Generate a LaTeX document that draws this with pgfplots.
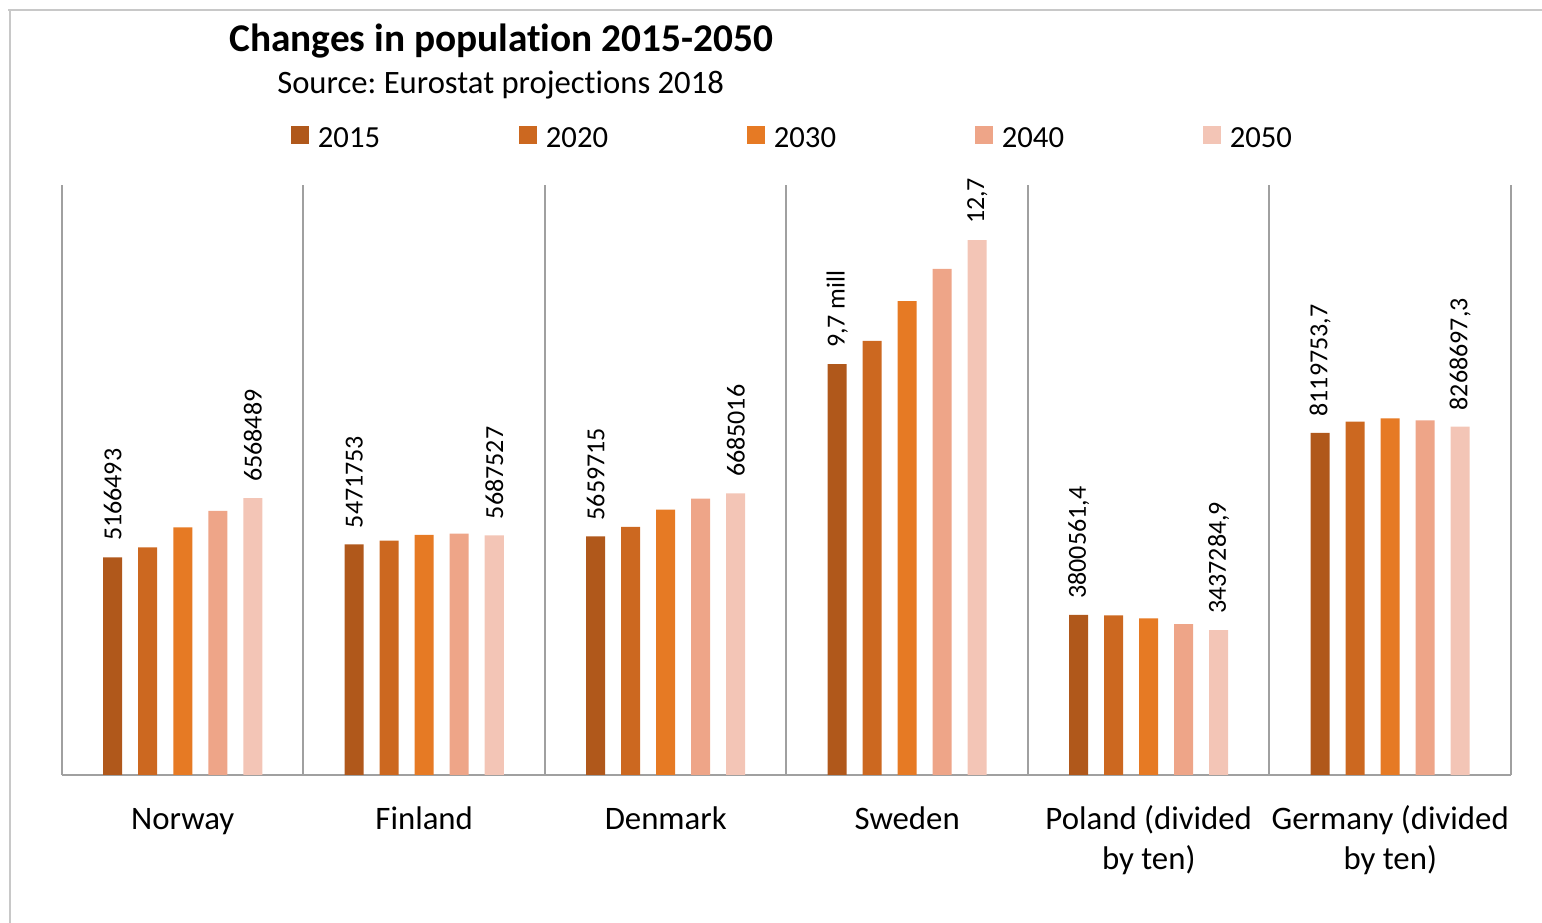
\documentclass[border=0pt]{standalone}
\usepackage{fontspec}
\setmainfont{Carlito}[Ligatures={NoCommon}]
\usepackage{pgfplots}
\usepackage{pgfplotstable}
\pgfplotsset{compat=1.18}
\frenchspacing

\definecolor{cA}{RGB}{176,88,27}
\definecolor{cB}{RGB}{204,104,32}
\definecolor{cC}{RGB}{230,122,36}
\definecolor{cD}{RGB}{238,165,136}
\definecolor{cE}{RGB}{243,197,182}
\definecolor{gridc}{RGB}{160,160,160}
\definecolor{framec}{RGB}{200,200,200}

\pgfplotstableread{
x y label
0 5166493 5166493
1 5471753 5471753
2 5659715 5659715
3 9750000 {9,7 mill}
4 3800561.4 {3800561,4}
5 8119753.7 {8119753,7}
}\tabA
\pgfplotstableread{
x y
0 5403000
1 5562000
2 5888000
3 10300000
4 3790000
5 8383000
}\tabB
\pgfplotstableread{
x y
0 5878000
1 5698000
2 6299000
3 11243000
4 3715000
5 8462000
}\tabC
\pgfplotstableread{
x y
0 6268000
1 5729000
2 6560000
3 12010000
4 3582000
5 8415000
}\tabD
\pgfplotstableread{
x y label
0 6568489 6568489
1 5687527 5687527
2 6685016 6685016
3 12690000 {12,7}
4 3437284.9 {3437284,9}
5 8268697.3 {8268697,3}
}\tabE

\begin{document}
\begin{tikzpicture}
\path[use as bounding box] (0,0) rectangle (1156.5pt,692.25pt);
\draw[framec, line width=1.5pt] (6pt,684.75pt) -- (1156.5pt,684.75pt);
\draw[framec, line width=1.5pt] (7.5pt,684.75pt) -- (7.5pt,0pt);
\node[anchor=base west, inner sep=0pt, font=\fontsize{29.5}{34}\selectfont\bfseries] at (171.75pt,653.25pt) {Changes in population 2015-2050};
\node[anchor=base west, inner sep=0pt, font=\fontsize{24.5}{29}\selectfont] at (207.75pt,621.75pt) {Source: Eurostat projections 2018};
\begin{axis}[
  at={(46.5pt,111pt)}, anchor=south west,
  scale only axis, width=1086.75pt, height=442.5pt,
  ybar=12pt, bar width=14.25pt,
  xmin=-0.5, xmax=5.5, ymin=0, ymax=14000000,
  enlargelimits=false,
  axis x line*=bottom, axis y line=none,
  axis line style={gridc, line width=1.5pt},
  xtick={0,1,2,3,4,5},
  xticklabels={Norway,Finland,Denmark,Sweden,{Poland (divided\\by ten)},{Germany (divided\\by ten)}},
  xtick style={draw=none},
  typeset ticklabels with strut,
  xticklabel style={align=center, font=\fontsize{24.6}{29.5}\selectfont, yshift=-12.75pt},
  extra x ticks={-0.5,0.5,1.5,2.5,3.5,4.5,5.5},
  extra x tick labels={},
  extra x tick style={grid=major, major grid style={gridc, line width=1.5pt}, tick style={draw=none}},
  ytick=\empty,
  clip=false,
  legend columns=5,
  legend style={at={(0.158,1.0800)}, anchor=west, draw=none, fill=none,
    inner sep=0pt, outer sep=0pt, font=\fontsize{23}{27}\selectfont,
    nodes={inner sep=0pt},
    /tikz/every odd column/.append style={column sep=6.75pt},
    /tikz/every even column/.append style={column sep=104.1pt}},
  legend image code/.code={\fill[#1] (0pt,-4pt) rectangle (13.5pt,9.5pt);},
  every node near coord/.append style={rotate=90, anchor=west, inner xsep=12pt, inner ysep=0pt, font=\fontsize{19.5}{23}\selectfont, text=black},
]
\addplot[fill=cA, draw=none, nodes near coords, point meta=explicit symbolic] table[x=x, y=y, meta=label] {\tabA};
\addplot[fill=cB, draw=none] table[x=x, y=y] {\tabB};
\addplot[fill=cC, draw=none] table[x=x, y=y] {\tabC};
\addplot[fill=cD, draw=none] table[x=x, y=y] {\tabD};
\addplot[fill=cE, draw=none, nodes near coords, point meta=explicit symbolic] table[x=x, y=y, meta=label] {\tabE};
\legend{2015,2020,2030,2040,2050}
\end{axis}
\end{tikzpicture}
\end{document}
